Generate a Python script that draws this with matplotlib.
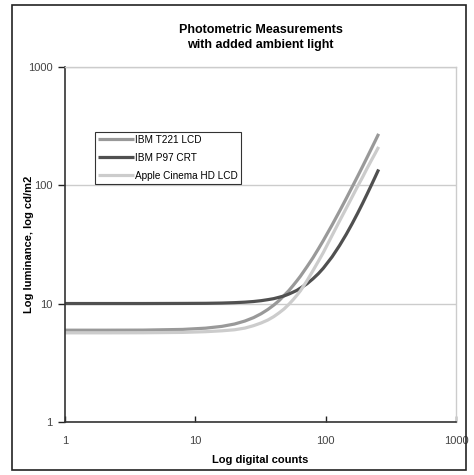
import matplotlib
matplotlib.use("Agg")
import matplotlib.pyplot as plt
from matplotlib.patches import Rectangle

plt.rcParams['font.family'] = ['Liberation Sans Narrow', 'DejaVu Sans Condensed', 'Liberation Sans', 'DejaVu Sans']

counts = [1, 2, 4, 8, 12, 16, 20, 24, 28, 32, 36, 40, 44, 48, 52, 56, 60, 64, 72, 80, 88, 96,
          112, 128, 144, 160, 176, 192, 208, 224, 240, 255]
ibm_t221 = [5.95, 5.95, 5.96, 6.04, 6.19, 6.41, 6.71, 7.11, 7.6, 8.2, 8.9, 9.7, 10.6, 11.7,
            12.8, 14.1, 15.5, 17.0, 20.5, 24.4, 29.0, 34.1, 46.1, 60.5, 77.4, 97.0, 119, 144,
            172, 203, 237, 272]
ibm_p97 = [10.0, 10.0, 10.0, 10.02, 10.04, 10.09, 10.17, 10.27, 10.4, 10.57, 10.78, 11.0,
           11.3, 11.6, 12.0, 12.45, 12.9, 13.5, 14.7, 16.2, 17.9, 19.9, 24.8, 31.0, 38.5, 47.5,
           58.0, 70.2, 84.2, 100, 117.6, 136]
apple_hd = [5.65, 5.65, 5.66, 5.7, 5.78, 5.88, 6.0, 6.2, 6.5, 6.85, 7.25, 7.75, 8.35, 9.0,
            9.8, 10.7, 11.7, 12.8, 15.6, 19.0, 22.8, 27.0, 37.6, 50.0, 64.0, 80.0, 98.0, 117,
            139, 162, 186, 211]

names = ["IBM T221 LCD", "IBM P97 CRT", "Apple Cinema HD LCD"]
colors = ["#999999", "#505050", "#cccccc"]

fig = plt.figure(figsize=(4.74, 4.75), dpi=100)
ax = fig.add_axes([0.137, 0.112, 0.825, 0.747])

for ys, name, c in zip([ibm_t221, ibm_p97, apple_hd], names, colors):
    ax.plot(counts, ys, color=c, lw=2.3, label=name, solid_capstyle='butt')

ax.set_xscale('log')
ax.set_yscale('log')
ax.set_xlim(1, 1000)
ax.set_ylim(1, 1000)
ax.set_xticks([1, 10, 100, 1000])
ax.set_xticklabels(['1', '10', '100', '1000'])
ax.set_yticks([1, 10, 100, 1000])
ax.set_yticklabels(['1', '10', '100', '1000'])
ax.minorticks_off()
ax.tick_params(axis='x', direction='in', length=4, width=1, labelsize=8, colors='#222222',
               labelcolor='#444444', pad=10)
ax.tick_params(axis='y', direction='out', length=5, width=1, labelsize=8, colors='#222222',
               labelcolor='#444444', pad=4)

ax.yaxis.grid(True, color='#cccccc', lw=1)
ax.set_axisbelow(True)
for s in ['top', 'right']:
    ax.spines[s].set_color('#cccccc')
    ax.spines[s].set_linewidth(1)
for s in ['left', 'bottom']:
    ax.spines[s].set_color('#333333')
    ax.spines[s].set_linewidth(1.2)

ax.set_xlabel('Log digital counts', fontsize=8, fontweight='bold', labelpad=7)
ax.set_ylabel('Log luminance, log cd/m2', fontsize=8, fontweight='bold')
ax.yaxis.set_label_coords(-0.08, 0.5)
ax.set_title('Photometric Measurements\nwith added ambient light', fontsize=9,
             fontweight='bold', pad=14, linespacing=1.3)

leg = ax.legend(loc='upper left', bbox_to_anchor=(0.077, 0.817), fontsize=7.2,
                frameon=True, fancybox=False, borderpad=0.3, handlelength=3.6,
                handletextpad=0.1, labelspacing=0.8, borderaxespad=0)
leg.get_frame().set_edgecolor('black')
leg.get_frame().set_linewidth(0.8)

# outer chart border
fig.patches.append(Rectangle((12 / 474, 1 - 470 / 475), 454 / 474, 465 / 475,
                             transform=fig.transFigure, fill=False,
                             edgecolor='#222222', lw=1.2))

fig.savefig('out.png', dpi=100)
